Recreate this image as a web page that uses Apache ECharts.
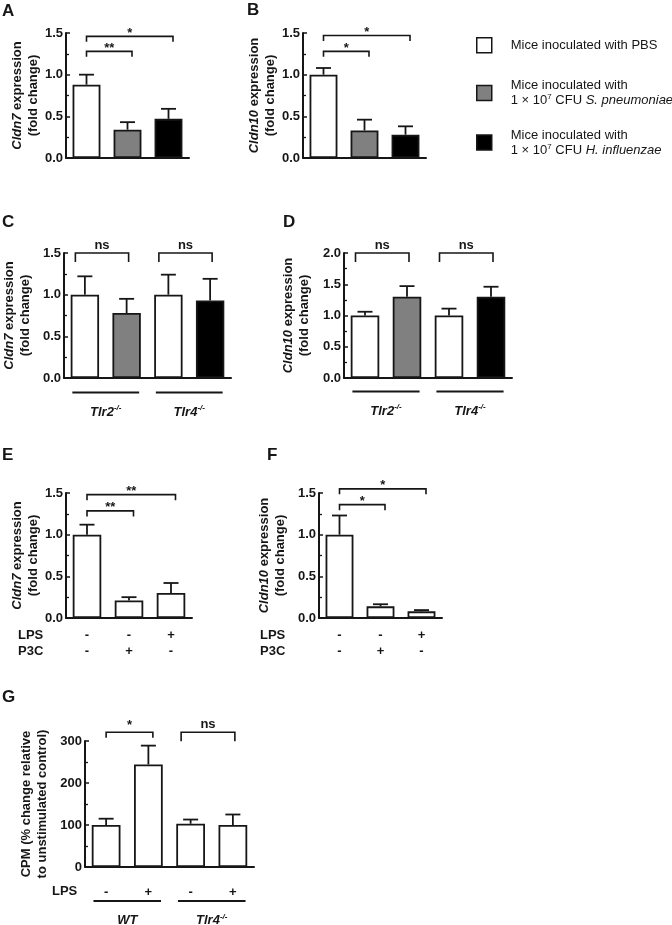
<!DOCTYPE html>
<html><head><meta charset="utf-8">
<script src="https://cdn.jsdelivr.net/npm/echarts@6/dist/echarts.min.js"></script>
<style>html,body{margin:0;padding:0;background:#fff}#c{width:672px;height:925px}</style>
</head><body><div id="c"></div>
<script>
// ---------------- DATA ----------------
// Panel A: Cldn7, mice inoculated
const A_cats = ['PBS', 'S. pneumoniae', 'H. influenzae'];
const A_groups = ['PBS', 'SPN', 'HI'];
const A_mean = [0.88, 0.34, 0.47];
const A_err = [1.00, 0.43, 0.59];
const A_brackets = [[0, 2, 1.46, '*'], [0, 1, 1.28, '**']];
// Panel B: Cldn10, mice inoculated
const B_cats = ['PBS', 'S. pneumoniae', 'H. influenzae'];
const B_groups = ['PBS', 'SPN', 'HI'];
const B_mean = [1.00, 0.33, 0.28];
const B_err = [1.08, 0.46, 0.38];
const B_brackets = [[0, 2, 1.47, '*'], [0, 1, 1.28, '*']];
// Panel C: Cldn7 in knockout mice
const C_cats = ['Tlr2 PBS', 'Tlr2 S. pneumoniae', 'Tlr4 PBS', 'Tlr4 H. influenzae'];
const C_groups = ['PBS', 'SPN', 'PBS', 'HI'];
const C_mean = [1.00, 0.78, 1.00, 0.93];
const C_err = [1.22, 0.95, 1.24, 1.19];
const C_brackets = [[0, 1, 1.5, 'ns'], [2, 3, 1.5, 'ns']];
const C_strains = [[0, 1, 'Tlr2', '-/-'], [2, 3, 'Tlr4', '-/-']];
// Panel D: Cldn10 in knockout mice
const D_cats = ['Tlr2 PBS', 'Tlr2 S. pneumoniae', 'Tlr4 PBS', 'Tlr4 H. influenzae'];
const D_groups = ['PBS', 'SPN', 'PBS', 'HI'];
const D_mean = [1.00, 1.30, 1.00, 1.30];
const D_err = [1.06, 1.47, 1.11, 1.46];
const D_brackets = [[0, 1, 2.0, 'ns'], [2, 3, 2.0, 'ns']];
const D_strains = [[0, 1, 'Tlr2', '-/-'], [2, 3, 'Tlr4', '-/-']];
// Panel E: Cldn7, LPS / P3C stimulation
const E_cats = ['Control', 'P3C', 'LPS'];
const E_groups = ['PBS', 'PBS', 'PBS'];
const E_mean = [1.00, 0.21, 0.30];
const E_err = [1.12, 0.25, 0.42];
const E_brackets = [[0, 2, 1.48, '**'], [0, 1, 1.285, '**']];
const E_LPS = ['-', '-', '+'];
const E_P3C = ['-', '+', '-'];
// Panel F: Cldn10, LPS / P3C stimulation
const F_cats = ['Control', 'P3C', 'LPS'];
const F_groups = ['PBS', 'PBS', 'PBS'];
const F_mean = [1.00, 0.14, 0.08];
const F_err = [1.23, 0.165, 0.095];
const F_brackets = [[0, 2, 1.55, '*'], [0, 1, 1.36, '*']];
const F_LPS = ['-', '-', '+'];
const F_P3C = ['-', '+', '-'];
// Panel G: CPM
const G_cats = ['WT -', 'WT +', 'Tlr4 -', 'Tlr4 +'];
const G_groups = ['PBS', 'PBS', 'PBS', 'PBS'];
const G_mean = [100, 244, 103, 100];
const G_err = [115, 289, 113, 125];
const G_brackets = [[0, 1, 321, '*'], [2, 3, 321, 'ns']];
const G_LPS = ['-', '+', '-', '+'];
const G_strains = [[0, 1, 'WT', ''], [2, 3, 'Tlr4', '-/-']];
// Legend
const LEGEND_KEYS = ['PBS', 'SPN', 'HI'];
const LEGEND_TEXT = {
  PBS: 'Mice inoculated with PBS',
  SPN: 'Mice inoculated with\n1 × 10{s|7} CFU {i|S. pneumoniae}',
  HI: 'Mice inoculated with\n1 × 10{s|7} CFU {i|H. influenzae}'
};

// ---------------- STYLE ----------------
const FONT = "'Liberation Sans', Arial, Helvetica, sans-serif";
const INK = '#161616';
const FILL = { PBS: '#ffffff', SPN: '#808080', HI: '#000000' };

const grids = [], xAxes = [], yAxes = [], series = [], graphics = [];

function errRender(params, api) {
  const i = api.value(0), m = api.value(1), e = api.value(2);
  const p0 = api.coord([i, m]), p1 = api.coord([i, e]);
  const hw = 7.5;
  return { type: 'group', children: [
    { type: 'line', shape: { x1: p0[0], y1: p0[1], x2: p1[0], y2: p1[1] }, style: { stroke: INK, lineWidth: 1.8 } },
    { type: 'line', shape: { x1: p1[0] - hw, y1: p1[1], x2: p1[0] + hw, y2: p1[1] }, style: { stroke: INK, lineWidth: 1.8 } }
  ]};
}

function makeBracketRender(br, cfg) {
  return function (params, api) {
    const b = br[params.dataIndex];
    const isNs = b[3] === 'ns';
    const off = isNs ? [-9.5, 2] : [0, 4.5];
    const drop = isNs ? 9 : 5.5;
    const p1 = api.coord([b[0], b[2]]), p2 = api.coord([b[1], b[2]]);
    const x1 = p1[0] + off[0], x2 = p2[0] + off[1], y = p1[1];
    const dy = isNs ? 8 : (cfg.starDy || 3);
    return { type: 'group', children: [
      { type: 'polyline', shape: { points: [[x1, y + drop], [x1, y], [x2, y], [x2, y + drop]] },
        style: { stroke: INK, lineWidth: 1.6, fill: 'none' } },
      { type: 'text', style: { text: b[3], x: (x1 + x2) / 2, y: y - dy, align: 'center', verticalAlign: 'middle',
        font: 'bold 13px ' + FONT, fill: INK } }
    ]};
  };
}

function makeStrainRender(strains, cfg) {
  return function (params, api) {
    const s = strains[params.dataIndex];
    const p1 = api.coord([s[0], 0]), p2 = api.coord([s[1], 0]);
    const bw = api.size([1, 0])[0];
    const y = p1[1] + cfg.strainLineOff;
    const x1 = p1[0] - 0.3 * bw, x2 = p2[0] + 0.3 * bw;
    const txt = s[3] ? '{i|' + s[2] + '}{s|' + s[3] + '}' : '{i|' + s[2] + '}';
    return { type: 'group', children: [
      { type: 'line', shape: { x1: x1, y1: y, x2: x2, y2: y }, style: { stroke: INK, lineWidth: 2 } },
      { type: 'text', style: { text: txt, x: (x1 + x2) / 2, y: y + 19.5, align: 'center', verticalAlign: 'middle',
        rich: {
          i: { fontFamily: FONT, fontSize: 13, fontWeight: 'bold', fontStyle: 'italic', fill: INK, lineHeight: 16 },
          s: { fontFamily: FONT, fontSize: 8, fontWeight: 'bold', fontStyle: 'italic', fill: INK, verticalAlign: 'top' }
        } } }
    ]};
  };
}

function addPanel(cfg) {
  const k = grids.length;
  grids.push(Object.assign({ containLabel: false }, cfg.grid));
  xAxes.push({
    gridIndex: k, type: 'category', data: cfg.cats,
    axisLine: { show: true, lineStyle: { color: INK, width: 2 } },
    axisTick: { show: false },
    axisLabel: cfg.xLabel ? {
      show: true, interval: 0, formatter: cfg.xLabel, margin: cfg.xMargin,
      fontFamily: FONT, fontSize: 13, fontWeight: 'bold', color: INK, lineHeight: 16
    } : { show: false },
    splitLine: { show: false }
  });
  yAxes.push({
    gridIndex: k, type: 'value', min: 0, max: cfg.yMax, interval: cfg.yInterval,
    axisLine: { show: true, lineStyle: { color: INK, width: 2 } },
    axisTick: { show: true, inside: true, length: 4, lineStyle: { color: INK, width: 1.5 } },
    minorTick: { show: true, splitNumber: 2, length: 3, lineStyle: { color: INK, width: 1.3 } },
    splitLine: { show: false },
    axisLabel: { formatter: v => v.toFixed(cfg.dec), margin: 3, fontFamily: FONT, fontSize: 13, fontWeight: 'bold', color: INK },
    name: cfg.yName, nameLocation: 'middle', nameRotate: 90, nameGap: cfg.nameGap,
    nameTextStyle: {
      fontFamily: FONT, fontSize: 13, fontWeight: 'bold', color: INK, lineHeight: 16,
      rich: { i: { fontFamily: FONT, fontSize: 13, fontWeight: 'bold', fontStyle: 'italic', color: INK, lineHeight: 16 } }
    }
  });
  series.push({
    type: 'bar', xAxisIndex: k, yAxisIndex: k, barWidth: '68%', silent: true, z: 2,
    itemStyle: { borderColor: INK, borderWidth: 1.8 },
    data: cfg.mean.map((v, i) => ({ value: v, itemStyle: { color: FILL[cfg.groups[i]] } }))
  });
  series.push({
    type: 'custom', xAxisIndex: k, yAxisIndex: k, silent: true, z: 3,
    renderItem: errRender,
    data: cfg.mean.map((m, i) => [i, m, cfg.err[i]])
  });
  series.push({
    type: 'custom', xAxisIndex: k, yAxisIndex: k, silent: true, z: 3,
    renderItem: makeBracketRender(cfg.brackets, cfg),
    data: cfg.brackets.map(b => [b[0], b[2], b[1]])
  });
  if (cfg.strains) {
    series.push({
      type: 'custom', xAxisIndex: k, yAxisIndex: k, silent: true, z: 3,
      renderItem: makeStrainRender(cfg.strains, cfg),
      data: cfg.strains.map(s => [s[0], 0, s[1]])
    });
  }
  return k;
}

const nameCldn = g => '{i|' + g + '} expression\n(fold change)';

const kA = addPanel({ grid: { left: 66, top: 33, width: 123, height: 125 }, cats: A_cats, groups: A_groups,
  mean: A_mean, err: A_err, brackets: A_brackets, yMax: 1.5, yInterval: 0.5, dec: 1,
  yName: nameCldn('Cldn7'), nameGap: 25 });
addPanel({ grid: { left: 303, top: 33, width: 123, height: 125 }, cats: B_cats, groups: B_groups,
  mean: B_mean, err: B_err, brackets: B_brackets, yMax: 1.5, yInterval: 0.5, dec: 1,
  yName: nameCldn('Cldn10'), nameGap: 22 });
addPanel({ grid: { left: 63, top: 253, width: 168, height: 125 }, cats: C_cats, groups: C_groups,
  mean: C_mean, err: C_err, brackets: C_brackets, yMax: 1.5, yInterval: 0.5, dec: 1,
  yName: nameCldn('Cldn7'), nameGap: 31, strains: C_strains, strainLineOff: 14.5 });
addPanel({ grid: { left: 344, top: 253, width: 168, height: 125 }, cats: D_cats, groups: D_groups,
  mean: D_mean, err: D_err, brackets: D_brackets, yMax: 2.0, yInterval: 0.5, dec: 1,
  yName: nameCldn('Cldn10'), nameGap: 32, strains: D_strains, strainLineOff: 13.5 });
addPanel({ grid: { left: 66, top: 493, width: 126, height: 125 }, cats: E_cats, groups: E_groups,
  mean: E_mean, err: E_err, brackets: E_brackets, yMax: 1.5, yInterval: 0.5, dec: 1,
  yName: nameCldn('Cldn7'), nameGap: 25,
  xLabel: (v, i) => E_LPS[i] + '\n' + E_P3C[i], xMargin: 9 });
addPanel({ grid: { left: 319, top: 493, width: 123, height: 125 }, cats: F_cats, groups: F_groups,
  mean: F_mean, err: F_err, brackets: F_brackets, yMax: 1.5, yInterval: 0.5, dec: 1,
  yName: nameCldn('Cldn10'), nameGap: 31,
  xLabel: (v, i) => F_LPS[i] + '\n' + F_P3C[i], xMargin: 9 });
addPanel({ grid: { left: 85, top: 741, width: 169, height: 126 }, cats: G_cats, groups: G_groups,
  mean: G_mean, err: G_err, brackets: G_brackets, yMax: 300, yInterval: 100, dec: 0,
  yName: 'CPM (% change relative\nto unstimulated control)', nameGap: 35, starDy: 7,
  xLabel: (v, i) => G_LPS[i], xMargin: 17, strains: G_strains, strainLineOff: 34 });

// legend dummy series (no data)
LEGEND_KEYS.forEach(key => {
  series.push({ type: 'scatter', name: key, xAxisIndex: kA, yAxisIndex: kA, data: [], symbol: 'rect',
    itemStyle: { color: FILL[key], borderColor: INK, borderWidth: 1.5, opacity: 1 } });
});
const legendTops = { PBS: 37, SPN: 78, HI: 127.5 };
const legends = LEGEND_KEYS.map(key => ({
  data: [key], left: 476, top: legendTops[key], orient: 'vertical', padding: 0,
  itemWidth: 15, itemHeight: 15, icon: 'rect', selectedMode: false,
  itemStyle: { color: FILL[key], borderColor: INK, borderWidth: 1.5, opacity: 1 },
  formatter: name => LEGEND_TEXT[name],
  textStyle: {
    fontFamily: FONT, fontSize: 13, color: INK, lineHeight: 15, padding: [0, 0, 0, 14],
    rich: {
      s: { fontFamily: FONT, fontSize: 8, color: INK, verticalAlign: 'top' },
      i: { fontFamily: FONT, fontSize: 13, fontStyle: 'italic', color: INK, lineHeight: 15 }
    }
  }
}));

// panel letters and row titles
const letters = [['A', 2, 11], ['B', 247, 10], ['C', 2, 222.5], ['D', 283, 222.5], ['E', 2, 455], ['F', 267, 455], ['G', 2, 697]];
letters.forEach(l => graphics.push({ type: 'text', x: l[1], y: l[2], silent: true,
  style: { text: l[0], font: 'bold 17px ' + FONT, fill: INK, verticalAlign: 'middle', align: 'left' } }));
const rowTitles = [['LPS', 18, 635], ['P3C', 18, 651], ['LPS', 260, 635], ['P3C', 260, 651], ['LPS', 52, 891]];
rowTitles.forEach(r => graphics.push({ type: 'text', x: r[1], y: r[2], silent: true,
  style: { text: r[0], font: 'bold 13px ' + FONT, fill: INK, verticalAlign: 'middle', align: 'left' } }));

const chart = echarts.init(document.getElementById('c'), null, { renderer: 'canvas' });
chart.setOption({
  animation: false,
  backgroundColor: '#ffffff',
  textStyle: { fontFamily: FONT },
  grid: grids, xAxis: xAxes, yAxis: yAxes, series: series,
  legend: legends, graphic: graphics
});
</script>
</body></html>
